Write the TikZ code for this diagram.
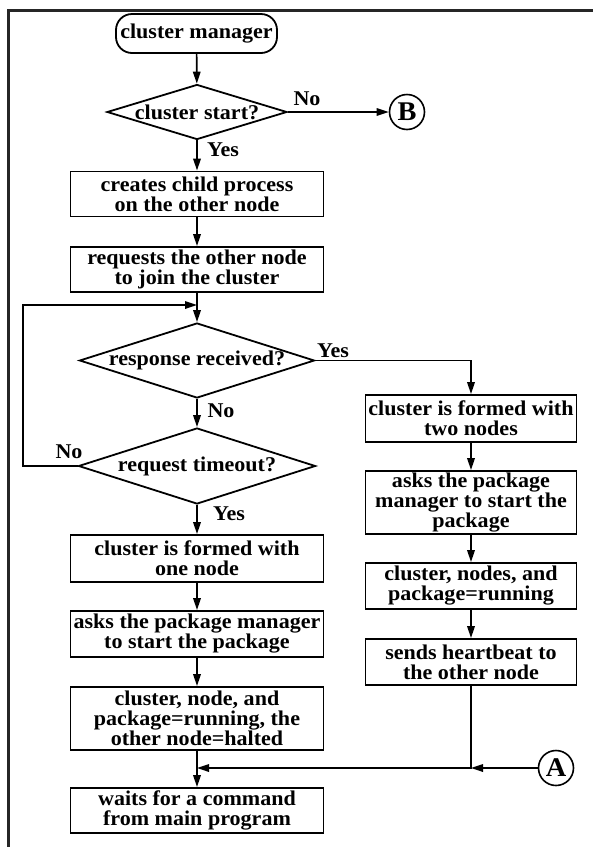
\documentclass[tikz,border=0pt]{standalone}
\usepackage{fontspec}
\setmainfont{Liberation Serif}[FakeStretch=1.05]
\usetikzlibrary{shapes.geometric,arrows.meta}

\begin{document}
\begin{tikzpicture}[x=1pt,y=-1pt,
  every node/.style={font=\fontsize{21}{20}\selectfont\bfseries},
  stepbox/.style={draw, line width=1.8pt, minimum width=253pt, inner xsep=1pt, inner ysep=0pt, align=center},
  rbox/.style={stepbox, minimum width=211pt},
  decision/.style={draw, diamond, line width=1.8pt, aspect=1, inner sep=0pt},
  terminal/.style={draw, rectangle, rounded corners=16pt, line width=1.8pt, minimum width=161pt, minimum height=39pt, inner sep=0pt},
  connector/.style={draw, circle, line width=1.6pt, minimum size=35pt, inner sep=0pt, font=\fontsize{27}{27}\selectfont\bfseries},
  flow/.style={line width=1.7pt, -{Triangle[length=12pt,width=7.5pt]}},
  lbl/.style={inner sep=0pt}
]
\useasboundingbox (0,0) rectangle (593,847);

% page frame (top and left edges)
\draw[line width=3pt, black!85] (8,847) -- (8,10) -- (593,10);

% left column
\node[terminal] (start) at (196.5,33.5) {cluster manager};
\node[decision, minimum width=180pt, minimum height=55pt] (d1) at (197,112) {\makebox[0pt]{cluster start?}};
\node[connector] (B) at (407,112) {B};
\node[stepbox, minimum height=45pt] (n1) at (197,194) {creates child process\\on the other node};
\node[stepbox, minimum height=45pt] (n2) at (197,269.5) {requests the other node\\to join the cluster};
\node[decision, minimum width=235pt, minimum height=75pt] (d2) at (197,360.5) {\makebox[0pt]{response received?}};
\node[decision, minimum width=237pt, minimum height=76pt] (d3) at (197,466) {\makebox[0pt]{request timeout?}};
\node[stepbox, minimum height=47pt] (n3) at (197,558.5) {cluster is formed with\\one node};
\node[stepbox, minimum height=46pt] (n4) at (197,634) {asks the package manager\\to start the package};
\node[stepbox, minimum height=63pt] (n5) at (197,718.5) {cluster, node, and\\package=running, the\\other node=halted};
\node[stepbox, minimum height=45pt] (n6) at (197,810.5) {waits for a command\\from main program};

% right column
\node[rbox, minimum height=47pt] (r1) at (471,418.5) {cluster is formed with\\two nodes};
\node[rbox, minimum height=63pt] (r2) at (471,502.5) {asks the package\\manager to start the\\package};
\node[rbox, minimum height=46pt] (r3) at (471,586) {cluster, nodes, and\\package=running};
\node[rbox, minimum height=46pt] (r4) at (471,662) {sends heartbeat to\\the other node};
\node[connector] (A) at (556,768) {A};

% junction points
\coordinate (loopin) at (197,305);
\coordinate (loopleft) at (23,305);
\coordinate (merge) at (197,768);
\coordinate (rjoin) at (471,768);

% branch labels
\node[lbl] (noB) at (307,99) {No};
\node[lbl] (yes1) at (223,150) {Yes};
\node[lbl] (yes2) at (333,351) {Yes};
\node[lbl] (no2) at (221,411) {No};
\node[lbl] (no3) at (69,452) {No};
\node[lbl] (yes3) at (229,514) {Yes};

% connectors
\draw[flow] (start) -- (d1);
\draw[flow] (d1) -- (B);
\draw[flow] (d1) -- (n1);
\draw[flow] (n1) -- (n2);
\draw[flow] (n2) -- (d2);
\draw[flow] (d2) -- (d3);
\draw[flow] (d3.west) -- (d3.west -| loopleft) -- (loopleft) -- (loopin);
\draw[flow] (d2.east) -| (r1.north);
\draw[flow] (d3) -- (n3);
\draw[flow] (n3) -- (n4);
\draw[flow] (n4) -- (n5);
\draw[flow] (n5) -- (n6);
\draw[flow] (r1) -- (r2);
\draw[flow] (r2) -- (r3);
\draw[flow] (r3) -- (r4);
\draw[flow] (r4.south) |- (merge);
\draw[flow] (A) -- (rjoin);
\end{tikzpicture}
\end{document}
